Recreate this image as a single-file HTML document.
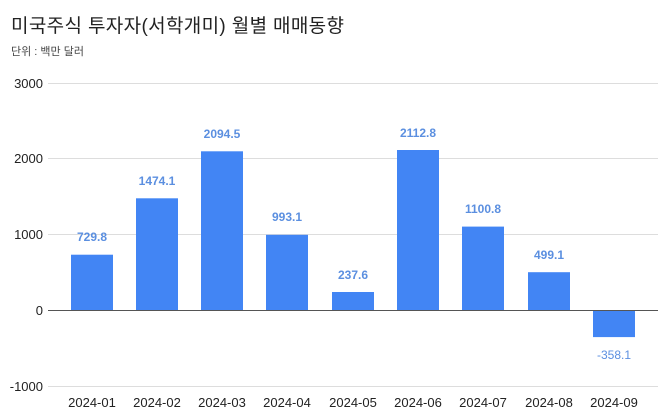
<!DOCTYPE html><html><head><meta charset="utf-8"><style>body{margin:0;background:#fff}</style></head><body>
<svg width="670" height="415" xmlns="http://www.w3.org/2000/svg" font-family="Liberation Sans, Noto Sans CJK KR, sans-serif">
<text x="11" y="32" font-size="19" fill="#222" textLength="333" lengthAdjust="spacing">미국주식 투자자(서학개미)  월별 매매동향</text>
<text x="11" y="55" font-size="11" fill="#444">단위 : 백만 달러</text>
<g stroke="#ddd" stroke-width="1">
<line x1="48" x2="658" y1="83.5" y2="83.5"/><line x1="48" x2="658" y1="158.5" y2="158.5"/><line x1="48" x2="658" y1="234.5" y2="234.5"/><line x1="48" x2="658" y1="386.5" y2="386.5"/>
</g>
<g font-size="13" fill="#222" text-anchor="end">
<text x="43" y="88">3000</text><text x="43" y="163">2000</text><text x="43" y="239">1000</text><text x="43" y="315">0</text><text x="43" y="391">-1000</text>
</g>
<g fill="#4285f4">
<rect x="71" y="254.7" width="42" height="55.3"/>
<rect x="136" y="198.3" width="42" height="111.7"/>
<rect x="201" y="151.3" width="42" height="158.7"/>
<rect x="266" y="234.8" width="42" height="75.2"/>
<rect x="332" y="292" width="42" height="18"/>
<rect x="397" y="150" width="42" height="160"/>
<rect x="462" y="226.6" width="42" height="83.4"/>
<rect x="528" y="272.2" width="42" height="37.8"/>
<rect x="593" y="310" width="42" height="27.1"/>
</g>
<line x1="48" x2="658" y1="310.5" y2="310.5" stroke="#555" stroke-width="1"/>
<g font-size="12" font-weight="bold" fill="#5b8fe0" text-anchor="middle">
<text x="92" y="241">729.8</text><text x="157" y="185">1474.1</text><text x="222" y="138">2094.5</text><text x="287" y="221">993.1</text><text x="353" y="279">237.6</text><text x="418" y="137">2112.8</text><text x="483" y="213">1100.8</text><text x="549" y="259">499.1</text><text x="614" y="359" font-weight="normal">-358.1</text>
</g>
<g font-size="13" fill="#222" text-anchor="middle">
<text x="92" y="407">2024-01</text><text x="157" y="407">2024-02</text><text x="222" y="407">2024-03</text><text x="287" y="407">2024-04</text><text x="353" y="407">2024-05</text><text x="418" y="407">2024-06</text><text x="483" y="407">2024-07</text><text x="549" y="407">2024-08</text><text x="614" y="407">2024-09</text>
</g>
</svg></body></html>
